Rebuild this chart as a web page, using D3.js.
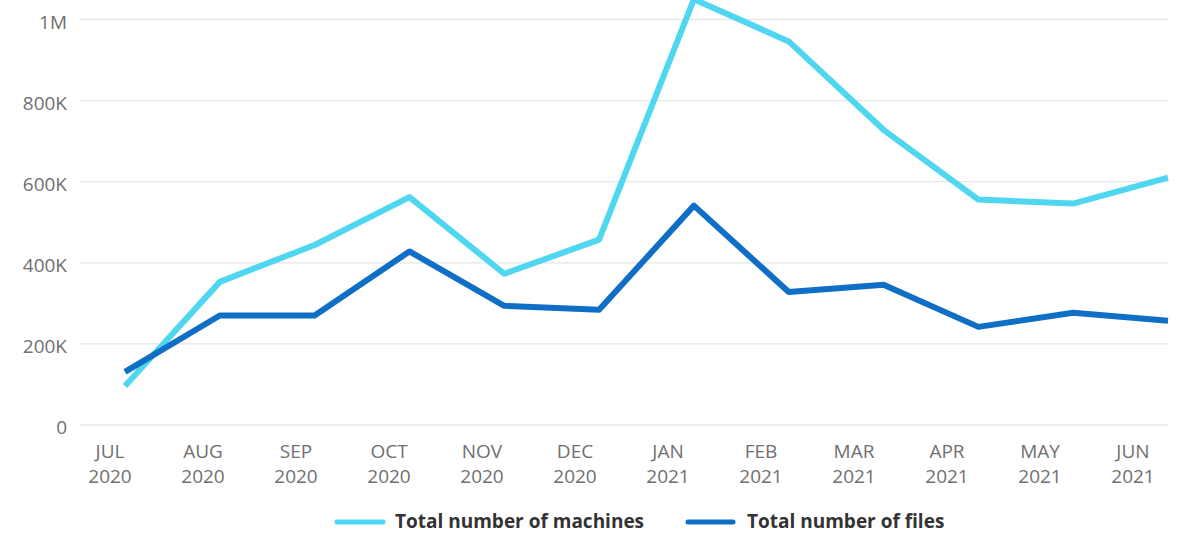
<!DOCTYPE html>
<html><head><meta charset="utf-8">
<script src="https://cdn.jsdelivr.net/npm/d3@7"></script>
<style>
html,body{margin:0;padding:0;background:#fff;}
svg{display:block;}
text{font-family:"Open Sans","Noto Sans",sans-serif;}
</style></head>
<body><svg id="c" width="1188" height="534"></svg>
<script>
const months = ["JUL","AUG","SEP","OCT","NOV","DEC","JAN","FEB","MAR","APR","MAY","JUN"];
const years  = ["2020","2020","2020","2020","2020","2020","2021","2021","2021","2021","2021","2021"];
const machines = [96000,353000,444000,562000,373000,457000,1050000,946000,728000,556000,546000,610000];
const files    = [131000,270000,270000,428000,294000,284000,541000,328000,346000,242000,277000,257000];
const yTicks = [0,200000,400000,600000,800000,1000000];
const yTickLabels = ["0","200K","400K","600K","800K","1M"];
const seriesNames = ["Total number of machines","Total number of files"];
const colors = ["#4fd6f0","#0f6fc6"];

const svg = d3.select("#c");
const keys = months.map((m,i)=>m+" "+years[i]);
const x = d3.scalePoint().domain(keys).range([125,1168]);
const xl = d3.scalePoint().domain(keys).range([110,1133]);
const y = d3.scaleLinear().domain([0,1000000]).range([425,19.5]);

// grid
svg.append("g").selectAll("line").data(yTicks).join("line")
  .attr("x1",80).attr("x2",1168).attr("y1",d=>y(d)).attr("y2",d=>y(d))
  .attr("stroke","#e6e6e6").attr("stroke-width",1.3);
const yAxis = d3.axisLeft(y).tickValues(yTicks).tickFormat((d,i)=>yTickLabels[i]).tickSize(0).tickPadding(0);
const gy = svg.append("g").attr("transform","translate(67,0)").call(yAxis);
gy.select(".domain").remove();
gy.selectAll("text").attr("fill","#707070").attr("font-size","19px").attr("font-family",null)
  .attr("x",0).attr("dy",null).attr("y",8.5);

// x labels
const xg = svg.append("g");
keys.forEach((k,i)=>{
  const t = xg.append("text").attr("x",xl(k)).attr("text-anchor","middle").attr("fill","#707070").attr("font-size","19px");
  t.append("tspan").attr("x",xl(k)).attr("y",458).text(months[i]);
  t.append("tspan").attr("x",xl(k)).attr("y",483).text(years[i]);
});

// lines
const line = d3.line().x((d,i)=>x(keys[i])).y(d=>y(d));
[machines,files].forEach((s,j)=>{
  svg.append("path").datum(s).attr("d",line).attr("fill","none")
    .attr("stroke",colors[j]).attr("stroke-width",6).attr("stroke-linejoin","round").attr("stroke-linecap","butt");
});

// legend
const leg = [{x1:337,x2:383,tx:395},{x1:688,x2:733,tx:747}];
leg.forEach((l,j)=>{
  svg.append("line").attr("x1",l.x1).attr("x2",l.x2).attr("y1",522).attr("y2",522)
    .attr("stroke",colors[j]).attr("stroke-width",5).attr("stroke-linecap","round");
  svg.append("text").attr("x",l.tx).attr("y",527.5).attr("fill","#333")
    .attr("font-size","19px").attr("font-weight","bold").text(seriesNames[j]);
});
</script></body></html>
